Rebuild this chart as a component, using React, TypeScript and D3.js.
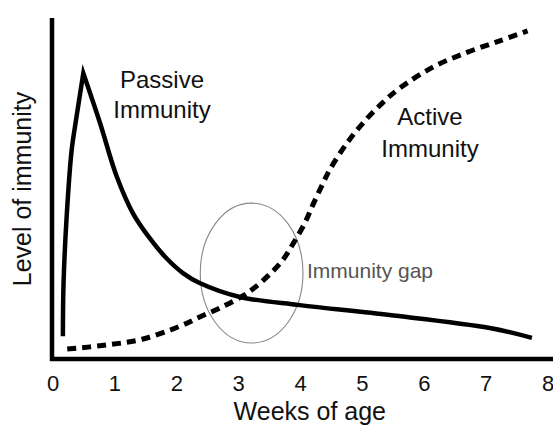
import React from "react";
import * as d3 from "d3";

const xTicks = [0, 1, 2, 3, 4, 5, 6, 7, 8];

// Passive immunity: rise to peak, then decay
const passiveRiseWeeks = [0.16, 0.17, 0.22, 0.30, 0.38, 0.49];
const passiveRiseLevel = [6.7, 22, 41.5, 61, 71, 83.8];
const passiveDecayWeeks = [0.49, 0.76, 1.03, 1.29, 1.56, 1.83, 2.10, 2.37, 3.02, 3.99, 5.44, 7.06, 7.74];
const passiveDecayLevel = [83.8, 69.2, 53.5, 42.8, 35.5, 29.6, 25.2, 22.3, 18.2, 15.8, 12.9, 9.1, 6.2];

// Active immunity (dashed)
const activeWeeks = [0.23, 0.86, 1.44, 2.05, 2.37, 2.70, 3.02, 3.23, 3.51, 3.72, 3.88, 4.07, 4.20, 4.36, 4.47, 4.75, 5.01, 5.33, 5.61, 6.14, 6.69, 7.22, 7.67];
const activeLevel = [2.9, 4.1, 5.8, 9.6, 12.3, 15.0, 18.0, 20.5, 25.0, 29.2, 33.8, 39.9, 45.2, 51.4, 55.4, 63.3, 69.2, 75.2, 79.5, 85.6, 89.9, 93.3, 96.2];

// Immunity gap ellipse (center week, center level, radius in weeks, radius in level)
const gapEllipse = [3.21, 25.2, 0.83, 20.5];

const W = 553;
const H = 426;
const FONT = "'Liberation Sans', Arial, Helvetica, sans-serif";

export default function App() {
  const x = d3.scaleLinear().domain([0, 8]).range([53, 548]);
  const y = d3.scaleLinear().domain([0, 100]).range([359, 18]);

  const smooth = d3
    .line<[number, number]>()
    .x((d) => x(d[0]))
    .y((d) => y(d[1]))
    .curve(d3.curveCatmullRom.alpha(0.5));

  const rise = smooth(passiveRiseWeeks.map((w, i) => [w, passiveRiseLevel[i]])) || "";
  const decay = smooth(passiveDecayWeeks.map((w, i) => [w, passiveDecayLevel[i]])) || "";
  const decayCont = decay.replace(/^M[^A-Za-z]*/, "");
  const passivePath = rise + decayCont;

  const activePath = smooth(activeWeeks.map((w, i) => [w, activeLevel[i]])) || "";

  const [ecx, ecy, erx, ery] = gapEllipse;
  const cx = x(ecx);
  const cy = y(ecy);
  const rx = x(ecx + erx) - x(ecx);
  const ry = y(ecy) - y(ecy + ery);

  return (
    <svg
      width={W}
      height={H}
      style={{ position: "absolute", left: 0, top: 0, background: "#fff" }}
      fontFamily={FONT}
    >
      <rect width={W} height={H} fill="#fff" />
      {/* axes */}
      <line x1={x(0) - 1} y1={y(100)} x2={x(0) - 1} y2={y(0) + 2} stroke="#000" strokeWidth={4.5} />
      <line x1={x(0) - 3} y1={y(0)} x2={W} y2={y(0)} stroke="#000" strokeWidth={4.5} />

      {xTicks.map((t) => (
        <text key={t} x={x(t)} y={391} textAnchor="middle" fontSize={22} fill="#111">
          {t}
        </text>
      ))}
      <text x={x(4.15)} y={420} textAnchor="middle" fontSize={25} fill="#111">
        Weeks of age
      </text>
      <text
        transform={`translate(31,${189}) rotate(-90)`}
        textAnchor="middle"
        fontSize={25}
        fill="#111"
      >
        Level of immunity
      </text>

      {/* ellipse */}
      <ellipse cx={cx} cy={cy} rx={rx} ry={ry} fill="none" stroke="#888" strokeWidth={1.1} />

      {/* curves */}
      <path d={passivePath} fill="none" stroke="#000" strokeWidth={4.5} strokeLinejoin="miter" strokeMiterlimit={20} />
      <path d={activePath} fill="none" stroke="#000" strokeWidth={5} strokeDasharray="9 6" />

      {/* labels */}
      <text x={162} y={88} textAnchor="middle" fontSize={24} fill="#111">Passive</text>
      <text x={162} y={118} textAnchor="middle" fontSize={24} fill="#111">Immunity</text>
      <text x={430} y={125} textAnchor="middle" fontSize={24} fill="#111">Active</text>
      <text x={430} y={157} textAnchor="middle" fontSize={24} fill="#111">Immunity</text>
      <text x={307} y={278} fontSize={21} fill="#555">Immunity gap</text>
    </svg>
  );
}
